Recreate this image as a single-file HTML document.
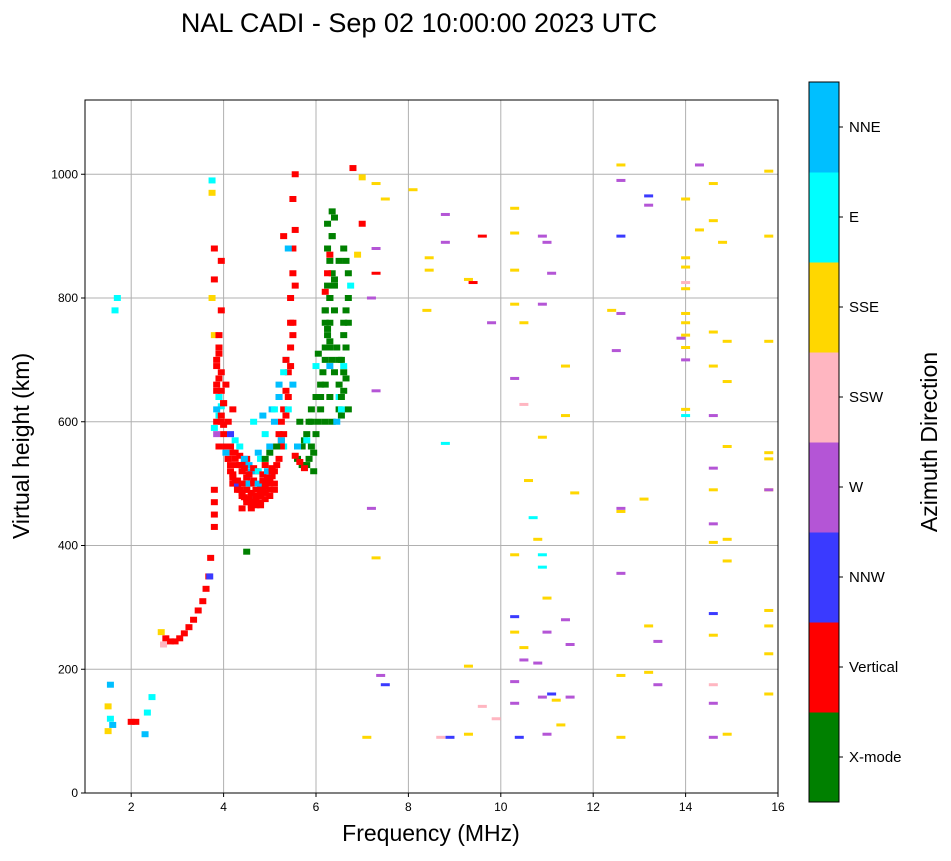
<!DOCTYPE html>
<html><head><meta charset="utf-8"><style>
body{margin:0;background:#fff;}
svg text{font-family:"Liberation Sans",sans-serif;}
</style></head><body>
<svg id="chart" width="951" height="856" xmlns="http://www.w3.org/2000/svg">
<rect width="951" height="856" fill="#fff"/>
<text x="419" y="32" font-size="27" text-anchor="middle">NAL CADI - Sep 02 10:00:00 2023 UTC</text>
<g id="grid"></g>
<g id="marks"></g>
<rect x="85" y="100" width="693" height="693" fill="none" stroke="#000" stroke-width="1"/>
<g id="axes"></g>
<text x="431" y="841" font-size="23" text-anchor="middle">Frequency (MHz)</text>
<text transform="translate(29,446) rotate(-90)" font-size="23" text-anchor="middle">Virtual height (km)</text>
<g id="cbar"></g>
<text transform="translate(937,442) rotate(-90)" font-size="23" text-anchor="middle">Azimuth Direction</text>
</svg>
<script>
const xTicks=[2,4,6,8,10,12,14,16];
const yTicks=[0,200,400,600,800,1000];
const dirLabels=["X-mode","Vertical","NNW","W","SSW","SSE","E","NNE"];
const dirColors=["#008000","#ff0000","#3a3aff","#b455d6","#ffb6c1","#ffd700","#00ffff","#00bfff"];
const freqs=[2.75,2.85,2.95,3.05,3.15,3.25,3.35,3.45,3.55,3.62,3.68,3.72,3.8,3.8,3.8,3.8,
3.85,3.9,3.85,3.95,3.9,3.95,3.95,
4.05,4.1,4.15,4.2,4.3,4.4,4.5,4.6,4.7,4.8,4.9,5.0,5.1,4.3,4.4,4.5,4.6,4.7,4.8,4.9,5.0,5.1,5.2,4.2,4.5,4.7,4.9,5.1,5.2,5.25,5.3,5.35,5.4,5.45,5.5,5.45,5.5,5.5,5.55,5.55,4.0,4.1,4.2,4.35,4.6,
4.4,4.6,4.8,5.0,5.1,5.3,5.2,4.9,5.4,3.7,4.5,4.55,4.25,4.75,5.05,5.35,
5.6,5.7,5.8,5.9,6.0,5.7,5.8,5.9,6.0,6.1,6.2,6.3,6.2,6.25,6.3,6.35,6.35,6.5,6.5,6.55,6.6,6.7,6.7,6.6,6.2,6.1,5.65,4.5,6.3,6.25,5.95,6.4,
6.0,6.5,6.6,6.75,6.3,
1.5,1.55,1.5,1.6,1.55,2.0,2.1,2.3,2.35,2.45,1.7,1.65,2.65,2.7,3.75,3.75,3.8,3.8,3.75,3.8,
7.0,8.1,8.45,8.45,8.4,9.3,10.3,10.3,10.5,10.3,10.3,10.8,10.9,10.6,10.3,11,10.3,10.5,11.4,11.4,11.6,12.4,12.6,12.6,12.6,12.6,13.1,13.2,13.2,14.0,14.0,14.0,14.0,14.0,14.0,14.0,14.0,14.0,14.3,14.6,14.6,14.6,14.6,14.6,14.6,14.6,14.8,14.9,14.9,14.9,14.9,14.9,14.9,15.8,15.8,15.8,15.8,15.8,15.8,15.8,15.8,15.8,15.8,9.3,9.3,7.3,7.1,11.2,11.3,
7.3,7.5,6.9,7.3,8.8,9.8,10.3,10.5,10.9,10.9,11.1,11.0,12.6,12.6,12.6,12.5,13.2,13.4,13.4,13.9,14.3,14.0,14.6,14.6,14.6,14.6,14.6,15.8,10.3,10.3,10.5,10.8,11.4,11.5,11.5,11.0,10.9,7.4,7.2,7.3,7.2,
11.0,12.6,8.8,8.8,14.0,10.7,10.9,10.9,10.3,11.1,7.5,8.9,10.4,9.6,9.4,6.8,7.3,7.0,13.2,12.6,14.6,14.6,14.0,8.7,9.9,9.6,
3.85,3.9,3.95,3.85,3.9,3.95,4.0,4.05,3.85,3.9,
4.1,4.15,4.2,4.25,4.3,4.35,4.4,4.45,4.5,4.55,4.6,4.65,4.7,4.75,4.8,4.85,4.9,4.95,5.0,5.05,
4.15,4.25,4.35,4.45,4.55,4.65,4.75,4.85,4.95,5.05,4.3,4.5,4.7,4.9,4.4,4.6,4.8,
5.25,5.3,5.35,5.4,5.45,5.5,5.35,5.45,5.55,5.3,5.25,5.5,
5.55,5.65,5.75,5.85,5.95,5.6,5.75,5.85,5.9,6.05,6.1,6.15,6.2,6.05,6.25,6.3,6.35,6.4,6.45,6.5,6.55,6.6,6.65,6.7,6.2,6.3,6.4,6.5,6.25,6.35,6.55,6.65,
4.9,5.0,5.15,5.25,4.35,4.45,4.65,4.85,5.1,5.2,5.4,5.5,5.2,5.3,4.05,4.15,5.6,5.8,6.45,6.55,
3.8,3.85,3.9,3.95,4.0,3.85,3.9,3.95,4.0,3.9,
4.2,4.3,4.4,4.5,4.6,4.7,4.8,4.9,5.0,5.1,4.25,4.35,4.45,4.55,4.65,4.75,4.85,4.95,5.05,5.15,
6.2,6.25,6.3,6.35,6.4,6.2,6.25,6.3,6.35,6.4,6.6,6.65,6.7,6.6,6.65,6.2,6.3];
const heights=[250,245,245,250,258,268,280,295,310,330,350,380,430,450,470,490,
600,640,660,680,720,780,860,
560,540,520,500,490,480,470,465,465,470,475,480,490,530,520,510,500,490,495,500,510,520,540,550,540,520,530,560,580,600,620,650,680,720,760,800,840,880,910,1000,580,600,620,500,480,
530,520,540,560,600,560,640,580,880,350,500,515,570,550,620,700,
540,530,530,560,580,560,580,600,640,660,700,720,780,820,860,900,940,660,620,700,760,800,840,880,600,620,600,390,760,880,520,830,
690,640,690,820,690,
140,120,100,110,175,115,115,95,130,155,800,780,260,240,990,970,880,830,800,740,
995,975,865,845,780,830,845,790,760,905,945,410,575,505,385,315,260,235,690,610,485,780,1015,455,190,90,475,270,195,960,865,850,815,775,760,740,720,620,910,985,925,745,690,490,405,255,890,730,665,560,410,375,95,1005,900,730,550,540,490,295,270,225,160,205,95,380,90,150,110,
985,960,870,880,935,760,670,628,900,790,840,890,990,775,355,715,950,245,175,735,1015,700,610,525,435,145,90,490,180,145,215,210,280,240,155,95,155,190,460,650,800,
260,460,890,565,610,445,385,365,285,160,175,90,90,900,825,1010,840,920,965,900,290,175,825,90,120,140,
580,610,625,650,670,600,630,660,700,740,
540,530,515,505,495,490,485,478,475,470,470,472,475,480,485,490,495,500,505,512,
560,550,545,535,530,525,520,515,520,525,500,490,480,485,460,460,465,
560,580,610,640,690,740,700,760,820,900,570,960,
545,535,525,540,550,560,570,600,620,600,640,680,720,710,740,800,840,780,720,700,640,680,720,760,760,800,820,860,920,600,610,860,
540,550,560,570,560,540,600,610,620,640,620,660,660,680,550,580,560,570,600,620,
590,620,640,610,595,690,710,650,630,560,
510,505,500,490,485,480,480,485,490,500,540,530,525,515,505,500,505,510,520,530,
810,840,870,900,930,780,750,730,700,680,650,670,620,740,780,660,640];
const dirs=[1,1,1,1,1,1,1,1,1,1,1,1,1,1,1,1,
1,1,1,1,1,1,1,
1,1,1,1,1,1,1,1,1,1,1,1,1,1,1,1,1,1,1,1,1,1,1,1,1,1,1,1,1,1,1,1,1,1,1,1,1,1,1,1,1,1,1,1,1,
2,7,6,7,7,6,2,6,7,2,7,2,6,7,7,6,
0,0,0,0,0,0,0,0,0,0,0,0,0,0,0,0,0,0,0,0,0,0,0,0,0,0,0,0,0,0,0,0,
6,6,6,6,7,
5,6,5,7,7,1,1,7,6,6,6,6,5,4,6,5,1,1,5,5,
5,5,5,5,5,5,5,5,5,5,5,5,5,5,5,5,5,5,5,5,5,5,5,5,5,5,5,5,5,5,5,5,5,5,5,5,5,5,5,5,5,5,5,5,5,5,5,5,5,5,5,5,5,5,5,5,5,5,5,5,5,5,5,5,5,5,5,5,5,5,5,5,
3,3,3,3,4,3,3,3,3,3,3,3,3,3,3,3,3,3,3,3,3,3,3,3,3,3,3,3,3,3,3,3,3,3,3,3,3,3,3,3,3,
6,6,6,6,6,2,2,2,2,2,1,1,1,1,1,2,2,2,4,4,4,4,4,3,6,6,
1,1,1,1,1,1,1,1,1,1,
1,1,1,1,1,1,1,1,1,1,1,1,1,1,1,1,1,1,1,1,
1,7,1,6,1,7,1,2,1,7,1,1,1,1,1,1,1,
1,1,1,1,1,1,1,1,1,1,1,1,
0,0,0,0,0,0,0,0,0,0,0,0,0,0,0,0,0,0,0,0,0,0,0,0,0,0,0,0,0,0,0,0,
7,6,7,6,7,6,7,6,7,7,6,7,2,7,6,7,6,6,7,6,
1,1,1,1,1,1,1,1,1,1,
1,1,1,1,1,1,1,1,1,1,1,1,7,1,1,1,1,1,1,1,
0,0,0,0,0,0,0,0,0,0,0,0,0,0,0,0,0];
const X0=85,X1=778,Y0=793,Y1=100,FMIN=1,FMAX=16,HMIN=0,HMAX=1120;
const xs=f=>X0+(f-FMIN)/(FMAX-FMIN)*(X1-X0);
const ys=h=>Y0-(h-HMIN)/(HMAX-HMIN)*(Y0-Y1);
const NS="http://www.w3.org/2000/svg";
function mk(t,a,p){const e=document.createElementNS(NS,t);for(const k in a)e.setAttribute(k,a[k]);p.appendChild(e);return e;}
const grid=document.getElementById('grid'),axes=document.getElementById('axes'),marks=document.getElementById('marks'),cbar=document.getElementById('cbar');
xTicks.forEach(v=>{const x=xs(v);
const g=mk('line',{x1:x,x2:x,y1:Y1,y2:Y0,stroke:'#b0b0b0','stroke-width':1},grid);


mk('line',{x1:x,x2:x,y1:Y0,y2:Y0+4,stroke:'#000'},axes);
const t=mk('text',{x:x,y:Y0+18,'font-size':12,'text-anchor':'middle'},axes);t.textContent=v;

});
yTicks.forEach(v=>{const y=ys(v);
const g=mk('line',{x1:X0,x2:X1,y1:y,y2:y,stroke:'#b0b0b0','stroke-width':1},grid);


mk('line',{x1:X0-4,x2:X0,y1:y,y2:y,stroke:'#000'},axes);
const t=mk('text',{x:X0-7,y:y+4,'font-size':12,'text-anchor':'end'},axes);t.textContent=v;

});
for(let i=0;i<freqs.length;i++){
const far=freqs[i]>7;
const w=far?9:7,h=far?3:6;
const r=mk('rect',{x:xs(freqs[i])-w/2,y:ys(heights[i])-h/2,width:w,height:h,fill:dirColors[dirs[i]]},marks);

}
const CX=809,CW=30,CT=82,CB=802,seg=(CB-CT)/dirLabels.length;
dirLabels.forEach((lab,i)=>{const y=CB-(i+1)*seg;
const r=mk('rect',{x:CX,y:y,width:CW,height:seg+0.5,fill:dirColors[i]},cbar);


mk('line',{x1:CX+CW,x2:CX+CW+4,y1:y+seg/2,y2:y+seg/2,stroke:'#000'},cbar);
const t=mk('text',{x:CX+CW+10,y:y+seg/2+5,'font-size':15},cbar);t.textContent=lab;

});
mk('rect',{x:CX,y:CT,width:CW,height:CB-CT,fill:'none',stroke:'#000'},cbar);
</script>
</body></html>
